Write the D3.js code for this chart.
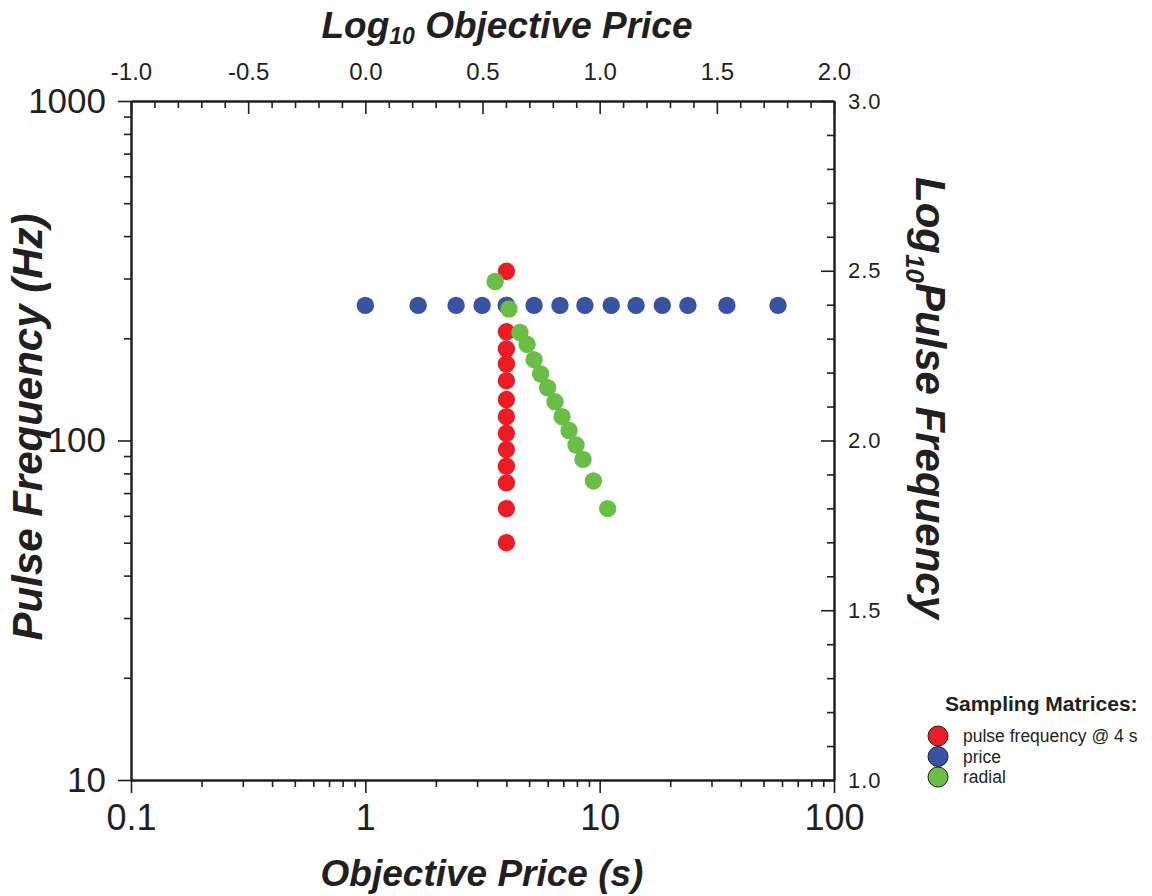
<!DOCTYPE html>
<html>
<head>
<meta charset="utf-8">
<script src="https://cdn.jsdelivr.net/npm/d3@7"></script>
<style>
  body { margin: 0; background: #fff; }
  svg { display: block; font-family: "Liberation Sans", Arial, Helvetica, sans-serif; }
  .axis path, .axis line { stroke: #231f20; }
  .axis text { fill: #231f20; }
</style>
</head>
<body>
<svg id="chart" width="1152" height="896"></svg>
<script>
// Sampling matrices
const pulseX = [4, 4, 4, 4, 4, 4, 4, 4, 4, 4, 4, 4, 4, 4];
const pulseY = [315, 250, 209, 186, 168, 150, 132, 117.5, 105, 94, 84, 75, 63, 50];

const priceX = [1.0, 1.68, 2.44, 3.15, 4.0, 5.25, 6.77, 8.65, 11.2, 14.3, 18.5, 23.8, 34.9, 57.7];
const priceY = [250, 250, 250, 250, 250, 250, 250, 250, 250, 250, 250, 250, 250, 250];

const radialX = [3.58, 4.10, 4.57, 4.90, 5.25, 5.60, 6.00, 6.45, 6.91, 7.40, 7.93, 8.49, 9.40, 10.82];
const radialY = [294, 244, 208, 192, 173, 157, 143, 130, 117.5, 107, 97, 88, 76, 63];

const seriesNames = ['pulse frequency @ 4 s', 'price', 'radial'];
const seriesColors = ['#ed1c24', '#3953a4', '#6abd45'];

const xTickValues = [0.1, 1, 10, 100];
const yTickValues = [10, 100, 1000];
const topTickValues = [-1.0, -0.5, 0.0, 0.5, 1.0, 1.5, 2.0];
const rightTickValues = [1.0, 1.5, 2.0, 2.5, 3.0];

const svg = d3.select('#chart');
const plotLeft = 131, plotRight = 834, plotTop = 101, plotBottom = 780;

const x = d3.scaleLog().domain([0.1, 100]).range([plotLeft, plotRight]);
const y = d3.scaleLog().domain([10, 1000]).range([plotBottom, plotTop]);
const xTop = d3.scaleLinear().domain([-1, 2]).range([plotLeft, plotRight]);
const yRight = d3.scaleLinear().domain([1, 3]).range([plotBottom, plotTop]);

// minor ticks
const xMinor = x.ticks().filter(v => !xTickValues.includes(v));
const yMinor = y.ticks().filter(v => !yTickValues.includes(v));
const topMinor = d3.range(-10, 21).map(v => v / 10).filter(v => Math.abs(v * 2 - Math.round(v * 2)) > 1e-6);
const rightMinor = d3.range(10, 31).map(v => v / 10).filter(v => Math.abs(v * 2 - Math.round(v * 2)) > 1e-6);

const oneDecimal = d => d3.format('.1f')(d).replace('\u2212', '-');

function styleAxis(g, fontSize, family) {
    g.attr('class', 'axis');
    g.select('.domain').attr('stroke-width', 2);
    g.selectAll('.tick line').attr('stroke-width', 1.6);
    g.selectAll('text').style('font-size', fontSize + 'px').style('font-family', family);
}

// bottom axis
svg.append('g')
    .attr('transform', `translate(0,${plotBottom})`)
    .call(d3.axisBottom(x).tickValues(xMinor).tickSize(7).tickSizeOuter(0).tickFormat(''))
    .call(g => styleAxis(g, 10, null));
svg.append('g')
    .attr('transform', `translate(0,${plotBottom})`)
    .call(d3.axisBottom(x).tickValues(xTickValues).tickSize(13).tickSizeOuter(0).tickPadding(11)
        .tickFormat(d => d3.format('~g')(d)))
    .call(g => styleAxis(g, 36, null));

// left axis
svg.append('g')
    .attr('transform', `translate(${plotLeft},0)`)
    .call(d3.axisLeft(y).tickValues(yMinor).tickSize(7).tickSizeOuter(0).tickFormat(''))
    .call(g => styleAxis(g, 10, null));
svg.append('g')
    .attr('transform', `translate(${plotLeft},0)`)
    .call(d3.axisLeft(y).tickValues(yTickValues).tickSize(13).tickSizeOuter(0).tickPadding(12)
        .tickFormat(d => d3.format('d')(d)))
    .call(g => styleAxis(g, 35, null));

// top axis (log10 of objective price), ticks point inward
svg.append('g')
    .attr('transform', `translate(0,${plotTop})`)
    .call(d3.axisTop(xTop).tickValues(topMinor).tickSize(-7).tickSizeOuter(0).tickFormat(''))
    .call(g => styleAxis(g, 10, null));
svg.append('g')
    .attr('transform', `translate(0,${plotTop})`)
    .call(d3.axisTop(xTop).tickValues(topTickValues).tickSize(-13).tickSizeOuter(0).tickPadding(21)
        .tickFormat(oneDecimal))
    .call(g => styleAxis(g, 24, null));

// right axis (log10 of pulse frequency), ticks point inward
svg.append('g')
    .attr('transform', `translate(${plotRight},0)`)
    .call(d3.axisRight(yRight).tickValues(rightMinor).tickSize(-7).tickSizeOuter(0).tickFormat(''))
    .call(g => styleAxis(g, 10, null));
svg.append('g')
    .attr('transform', `translate(${plotRight},0)`)
    .call(d3.axisRight(yRight).tickValues(rightTickValues).tickSize(-13).tickSizeOuter(0).tickPadding(14)
        .tickFormat(oneDecimal))
    .call(g => styleAxis(g, 22, null))
    .call(g => g.selectAll('text').style('letter-spacing', '1px'));

// data points: red, then blue, then green on top
const series = [
    { xs: pulseX, ys: pulseY, color: seriesColors[0] },
    { xs: priceX, ys: priceY, color: seriesColors[1] },
    { xs: radialX, ys: radialY, color: seriesColors[2] }
];

series.forEach(s => {
    svg.append('g').selectAll('circle')
        .data(s.xs.map((v, i) => [v, s.ys[i]]))
        .enter().append('circle')
        .attr('cx', d => x(d[0]))
        .attr('cy', d => y(d[1]))
        .attr('r', 8.7)
        .attr('fill', s.color);
});

// axis titles
const titleStyle = t => t.style('font-weight', 'bold').style('font-style', 'italic').style('fill', '#231f20');

svg.append('text')
    .attr('x', 507).attr('y', 38)
    .attr('text-anchor', 'middle')
    .style('font-size', '37px')
    .call(titleStyle)
    .call(t => {
        t.append('tspan').text('Log');
        t.append('tspan').attr('dy', 6).style('font-size', '23px').text('10');
        t.append('tspan').attr('dy', -6).text(' Objective Price');
    });

svg.append('text')
    .attr('x', 482).attr('y', 886)
    .attr('text-anchor', 'middle')
    .style('font-size', '37px')
    .call(titleStyle)
    .text('Objective Price (s)');

svg.append('text')
    .attr('transform', 'translate(42,427) rotate(-90)')
    .attr('text-anchor', 'middle')
    .style('font-size', '42px')
    .call(titleStyle)
    .text('Pulse Frequency (Hz)');

svg.append('text')
    .attr('transform', 'translate(916,398) rotate(90)')
    .attr('text-anchor', 'middle')
    .style('font-size', '42px')
    .call(titleStyle)
    .call(t => {
        t.append('tspan').text('Log');
        t.append('tspan').attr('dy', 10).style('font-size', '26px').text('10');
        t.append('tspan').attr('dy', -10).text('Pulse Frequency');
    });

// legend
const legend = svg.append('g').attr('transform', 'translate(938,0)');
legend.append('text')
    .attr('x', 7).attr('y', 711)
    .style('font-size', '21px')
    .style('font-weight', 'bold')
    .style('fill', '#231f20')
    .text('Sampling Matrices:');

const rows = legend.selectAll('.row')
    .data(seriesNames)
    .enter().append('g')
    .attr('class', 'row')
    .attr('transform', (d, i) => `translate(0,${736 + i * 20.5})`);

rows.append('circle')
    .attr('r', 10)
    .attr('fill', (d, i) => seriesColors[i])
    .attr('stroke', '#231f20')
    .attr('stroke-width', 1);

rows.append('text')
    .attr('x', 25).attr('y', 6)
    .style('font-size', '17.5px')
    .style('fill', '#231f20')
    .text(d => d);
</script>
</body>
</html>
